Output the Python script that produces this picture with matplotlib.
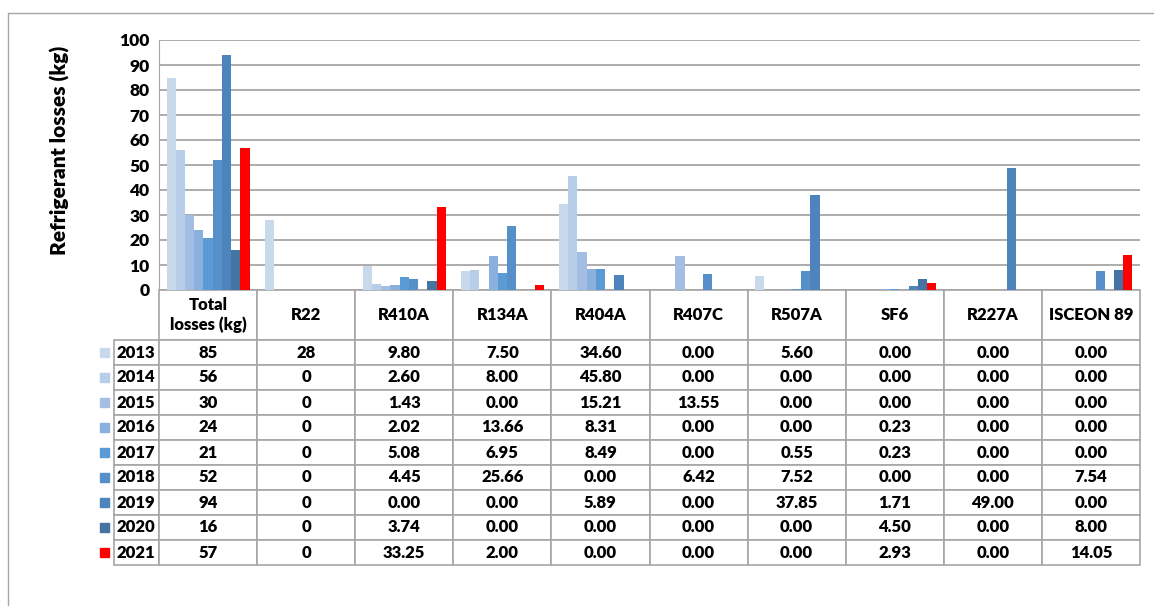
import numpy as np
import matplotlib.pyplot as plt
from matplotlib.patches import Rectangle

plt.rcParams['font.family'] = ['Lato', 'DejaVu Sans']
plt.rcParams['font.weight'] = 'heavy'

# refrigerant losses per gas and year (kg)
gases = ['Total\nlosses (kg)', 'R22', 'R410A', 'R134A', 'R404A', 'R407C',
         'R507A', 'SF6', 'R227A', 'ISCEON 89']
years = ['2013', '2014', '2015', '2016', '2017', '2018', '2019', '2020', '2021']

total = [85, 56, 30, 24, 21, 52, 94, 16, 57]
r22 = [28, 0, 0, 0, 0, 0, 0, 0, 0]
r410a = [9.80, 2.60, 1.43, 2.02, 5.08, 4.45, 0.00, 3.74, 33.25]
r134a = [7.50, 8.00, 0.00, 13.66, 6.95, 25.66, 0.00, 0.00, 2.00]
r404a = [34.60, 45.80, 15.21, 8.31, 8.49, 0.00, 5.89, 0.00, 0.00]
r407c = [0.00, 0.00, 13.55, 0.00, 0.00, 6.42, 0.00, 0.00, 0.00]
r507a = [5.60, 0.00, 0.00, 0.00, 0.55, 7.52, 37.85, 0.00, 0.00]
sf6 = [0.00, 0.00, 0.00, 0.23, 0.23, 0.00, 1.71, 4.50, 2.93]
r227a = [0.00, 0.00, 0.00, 0.00, 0.00, 0.00, 49.00, 0.00, 0.00]
isceon89 = [0.00, 0.00, 0.00, 0.00, 0.00, 7.54, 0.00, 8.00, 14.05]

columns = [total, r22, r410a, r134a, r404a, r407c, r507a, sf6, r227a, isceon89]
data = np.array(columns).T  # rows = years, cols = gases

colors = ['#C9D9EC', '#B8CDE8', '#A3BEE2', '#8AB0DD', '#5B9BD5',
          '#5590C8', '#4E84BC', '#4574A2', '#FF0000']

grid_col = '#A6A6A6'
wt = 'heavy'

fig = plt.figure(figsize=(11.54, 6.06), dpi=100)
W, H = 1154, 606
ax = fig.add_axes([159 / W, (H - 290) / H, 981 / W, 250 / H])

# outer chart frame
fig.patches.append(Rectangle((8 / W, -0.5), 2, 1.5 - 13 / H, transform=fig.transFigure,
                             fill=False, edgecolor=grid_col, lw=1))

x = np.arange(len(gases)) + 0.5
w = 0.094
for i, yr in enumerate(years):
    vals = data[i]
    ax.bar(x + (i - 4) * w, vals, width=w, color=colors[i], label=yr, zorder=3)

ax.set_xlim(0, len(gases))
ax.set_ylim(0, 100)
ax.set_yticks(np.arange(0, 101, 10))
ax.tick_params(axis='y', length=0, pad=7, labelsize=12.5)
ax.set_xticks([])
ax.grid(axis='y', color=grid_col, lw=1.3, zorder=0)
for s in ['top', 'right', 'bottom']:
    ax.spines[s].set_visible(False)
ax.spines['left'].set_color(grid_col)
for lbl in ax.get_yticklabels():
    lbl.set_fontweight(wt)

ax.set_ylabel('Refrigerant losses (kg)', fontsize=15, fontweight=wt)
ax.yaxis.set_label_coords((70 - 159) / 981, 0.56)

# data table under the bars
cell_text = []
for i in range(len(years)):
    row = []
    for j in range(len(gases)):
        v = data[i, j]
        row.append(f'{v:.0f}' if j < 2 else f'{v:.2f}')
    cell_text.append(row)

tbl = ax.table(cellText=cell_text, rowLabels=years, colLabels=gases,
               cellLoc='center', rowLoc='right', bbox=[0, -1.1, 1, 1.1])
tbl.auto_set_font_size(False)
tbl.set_fontsize(12)
row_w = 0.1 * 66 / 98.1
for (r, c), cell in tbl.get_celld().items():
    cell.set_edgecolor(grid_col)
    cell.set_linewidth(1.2)
    cell.get_text().set_fontweight(wt)
    if r == 0:
        cell.set_height(2)
    else:
        cell.set_height(1)
    if c == -1:
        cell.set_width(row_w)
        cell.PAD = 0.08

# legend keys in the row label cells
for i in range(len(years)):
    yc = -(50 + 25 * i + 12.5) / 250
    ax.add_patch(Rectangle(((100 - 159) / 981, yc - 4.5 / 250), 9 / 981, 9 / 250,
                           transform=ax.transAxes, color=colors[i], clip_on=False, zorder=5))

fig.savefig('out.png', dpi=100)
